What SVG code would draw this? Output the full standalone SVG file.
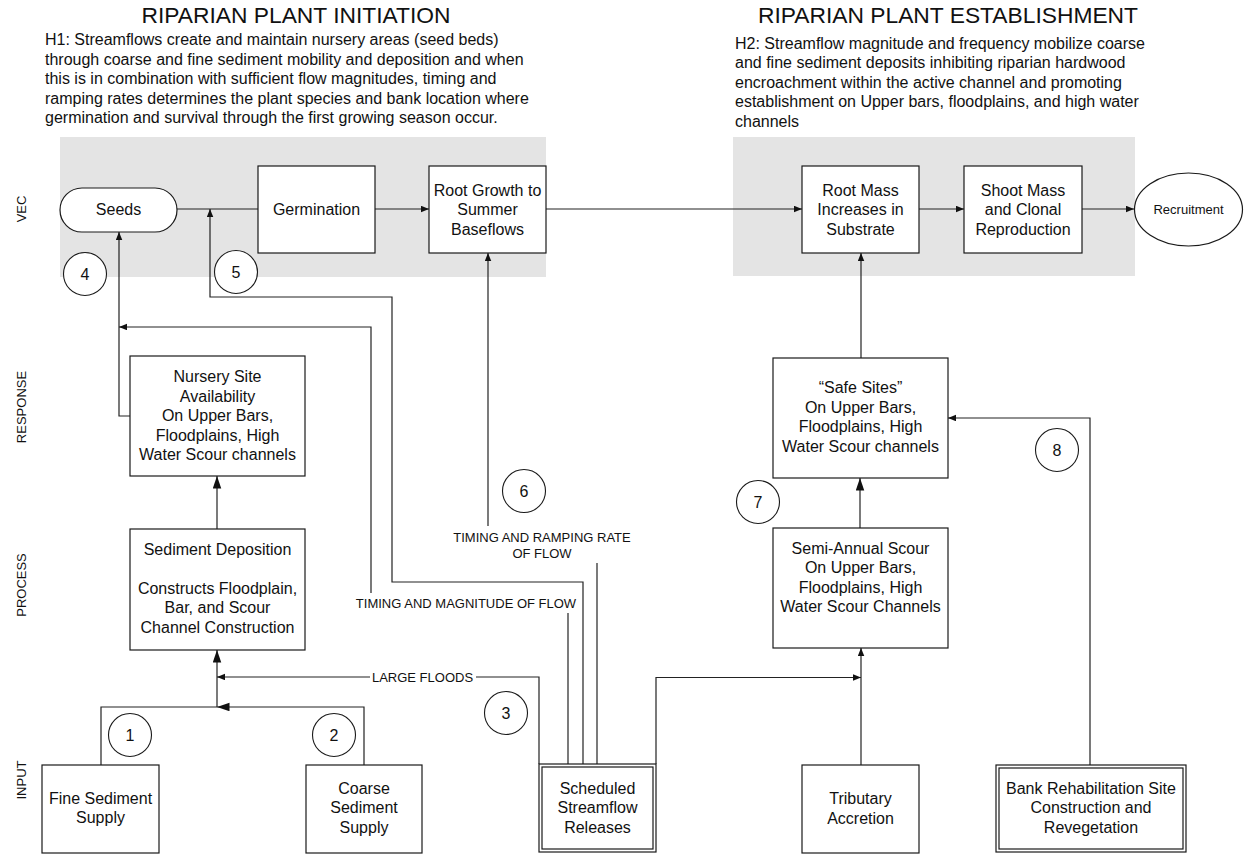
<svg xmlns="http://www.w3.org/2000/svg" width="1244" height="854" viewBox="0 0 1244 854">
  <defs>
    <style>
      text { font-family: "Liberation Sans", Arial, sans-serif; fill: #111; }
      .title { font-size: 22.8px; text-anchor: middle; }
      .hyp { font-size: 16px; }
      .node { font-size: 16px; text-anchor: middle; }
      .small { font-size: 13px; text-anchor: middle; }
      .lane { font-size: 13px; text-anchor: middle; }
      .box { fill: #fff; stroke: #1a1a1a; stroke-width: 1.2; }
      .band { fill: #e4e4e4; stroke: none; }
      .num { fill: #fff; stroke: #1a1a1a; stroke-width: 1.1; }
      .conn path { fill: none; stroke: #222; stroke-width: 1.2; }
    </style>
    <marker id="arr" markerUnits="userSpaceOnUse" markerWidth="9" markerHeight="7" refX="8" refY="3.25" orient="auto">
      <path d="M0,0 L8,3.25 L0,6.5 z" fill="#111"/>
    </marker>
    <marker id="arrL" markerUnits="userSpaceOnUse" markerWidth="14" markerHeight="9" refX="12.5" refY="4.25" orient="auto">
      <path d="M0,0 L12.5,4.25 L0,8.5 z" fill="#111"/>
    </marker>
  </defs>

  <rect width="1244" height="854" fill="#fff"/>

  <!-- headings -->
  <text class="title" x="296" y="23">RIPARIAN PLANT INITIATION</text>
  <text class="title" x="948" y="23">RIPARIAN PLANT ESTABLISHMENT</text>
  <text class="hyp" x="45" y="45">
    <tspan x="45">H1: Streamflows create and maintain nursery areas (seed beds)</tspan>
    <tspan x="45" dy="19.6">through coarse and fine sediment mobility and deposition and when</tspan>
    <tspan x="45" dy="19.6">this is in combination with sufficient flow magnitudes, timing and</tspan>
    <tspan x="45" dy="19.6">ramping rates determines the plant species and bank location where</tspan>
    <tspan x="45" dy="19.6">germination and survival through the first growing season occur.</tspan>
  </text>
  <text class="hyp" x="735" y="48.5">
    <tspan x="735">H2: Streamflow magnitude and frequency mobilize coarse</tspan>
    <tspan x="735" dy="19.5">and fine sediment deposits inhibiting riparian hardwood</tspan>
    <tspan x="735" dy="19.5">encroachment within the active channel and promoting</tspan>
    <tspan x="735" dy="19.5">establishment on Upper bars, floodplains, and high water</tspan>
    <tspan x="735" dy="19.5">channels</tspan>
  </text>

  <!-- lane labels -->
  <g id="lanes">
    <text class="lane" transform="translate(21,209) rotate(-90)" y="4.6">VEC</text>
    <text class="lane" transform="translate(21,407) rotate(-90)" y="4.6">RESPONSE</text>
    <text class="lane" transform="translate(21,585) rotate(-90)" y="4.6">PROCESS</text>
    <text class="lane" transform="translate(21,780) rotate(-90)" y="4.6">INPUT</text>
  </g>

  <!-- shaded VEC bands -->
  <rect class="band" x="60" y="137" width="486" height="140"/>
  <rect class="band" x="733" y="137" width="402" height="139"/>

  <!-- connectors -->
  <g id="connectors" class="conn">
    <path d="M177,209 H258"/>
    <path d="M375,209 H429" marker-end="url(#arr)"/>
    <path d="M546,209 H802" marker-end="url(#arr)"/>
    <path d="M919,209 H964" marker-end="url(#arr)"/>
    <path d="M1082,209 H1134" marker-end="url(#arr)"/>
    <path d="M130,416 H119 V232" marker-end="url(#arr)"/>
    <path d="M217,529 V476" marker-end="url(#arrL)"/>
    <path d="M101,765 V707 H217"/>
    <path d="M364,765 V707 H217" marker-end="url(#arrL)"/>
    <path d="M217,707 V650" marker-end="url(#arrL)"/>
    <path d="M539,764 V677 H476"/>
    <path d="M370,677 H217" marker-end="url(#arr)"/>
    <path d="M568,764 V613"/>
    <path d="M371,593 V327 H119" marker-end="url(#arr)"/>
    <path d="M583,764 V582 H392 V297 H210 V209" marker-end="url(#arr)"/>
    <path d="M597,764 V563"/>
    <path d="M488,526 V253" marker-end="url(#arr)"/>
    <path d="M656,764 V677.5 H861" marker-end="url(#arr)"/>
    <path d="M861,765 V648" marker-end="url(#arr)"/>
    <path d="M860,528 V478" marker-end="url(#arrL)"/>
    <path d="M861,358 V253" marker-end="url(#arr)"/>
    <path d="M1090,765 V418 H948" marker-end="url(#arr)"/>
  </g>

  <!-- connector labels -->
  <g id="flow-labels">
    <text class="small" x="422.5" y="681.5">LARGE FLOODS</text>
    <text class="small" x="466" y="607.5">TIMING AND MAGNITUDE OF FLOW</text>
    <text class="small" x="542" y="541.5">TIMING AND RAMPING RATE</text>
    <text class="small" x="542" y="557.5">OF FLOW</text>
  </g>

  <!-- VEC nodes -->
  <g id="seeds">
    <rect class="box" x="60" y="188" width="117" height="44" rx="22" ry="22"/>
    <text class="node" x="118.5" y="214.5">Seeds</text>
  </g>
  <g id="germination">
    <rect class="box" x="258" y="166" width="117" height="87"/>
    <text class="node" x="316.5" y="214.5">Germination</text>
  </g>
  <g id="root-growth">
    <rect class="box" x="429" y="166" width="117" height="87"/>
    <text class="node" x="487.5" y="195.5">Root Growth to</text>
    <text class="node" x="487.5" y="215">Summer</text>
    <text class="node" x="487.5" y="234.5">Baseflows</text>
  </g>
  <g id="root-mass">
    <rect class="box" x="802" y="166" width="117" height="87"/>
    <text class="node" x="860.5" y="195.5">Root Mass</text>
    <text class="node" x="860.5" y="215">Increases in</text>
    <text class="node" x="860.5" y="234.5">Substrate</text>
  </g>
  <g id="shoot-mass">
    <rect class="box" x="964" y="166" width="118" height="87"/>
    <text class="node" x="1023" y="195.5">Shoot Mass</text>
    <text class="node" x="1023" y="215">and Clonal</text>
    <text class="node" x="1023" y="234.5">Reproduction</text>
  </g>
  <g id="recruitment">
    <ellipse class="box" cx="1188.5" cy="209.5" rx="54" ry="36.5"/>
    <text class="small" x="1188.5" y="214">Recruitment</text>
  </g>

  <!-- response nodes -->
  <g id="nursery-site">
    <rect class="box" x="130" y="356" width="175" height="120"/>
    <text class="node" x="217.5" y="382">Nursery Site</text>
    <text class="node" x="217.5" y="401.5">Availability</text>
    <text class="node" x="217.5" y="421">On Upper Bars,</text>
    <text class="node" x="217.5" y="440.5">Floodplains, High</text>
    <text class="node" x="217.5" y="460">Water Scour channels</text>
  </g>
  <g id="safe-sites">
    <rect class="box" x="773" y="358" width="175" height="120"/>
    <text class="node" x="860.5" y="393">“Safe Sites”</text>
    <text class="node" x="860.5" y="412.5">On Upper Bars,</text>
    <text class="node" x="860.5" y="432">Floodplains, High</text>
    <text class="node" x="860.5" y="451.5">Water Scour channels</text>
  </g>

  <!-- process nodes -->
  <g id="sediment-deposition">
    <rect class="box" x="130" y="529" width="175" height="121"/>
    <text class="node" x="217.5" y="554.5">Sediment Deposition</text>
    <text class="node" x="217.5" y="593.5">Constructs Floodplain,</text>
    <text class="node" x="217.5" y="613">Bar, and Scour</text>
    <text class="node" x="217.5" y="632.5">Channel Construction</text>
  </g>
  <g id="semi-annual-scour">
    <rect class="box" x="773" y="528" width="175" height="120"/>
    <text class="node" x="860.5" y="553.5">Semi-Annual Scour</text>
    <text class="node" x="860.5" y="573">On Upper Bars,</text>
    <text class="node" x="860.5" y="592.5">Floodplains, High</text>
    <text class="node" x="860.5" y="612">Water Scour Channels</text>
  </g>

  <!-- input nodes -->
  <g id="fine-sediment">
    <rect class="box" x="42" y="765" width="117" height="88"/>
    <text class="node" x="100.5" y="803.5">Fine Sediment</text>
    <text class="node" x="100.5" y="823">Supply</text>
  </g>
  <g id="coarse-sediment">
    <rect class="box" x="306" y="765" width="116" height="88"/>
    <text class="node" x="364" y="793.5">Coarse</text>
    <text class="node" x="364" y="813">Sediment</text>
    <text class="node" x="364" y="832.5">Supply</text>
  </g>
  <g id="scheduled-releases">
    <rect class="box" x="539" y="764" width="117" height="88"/>
    <rect class="box" x="542" y="767" width="111" height="82"/>
    <text class="node" x="597.5" y="793.5">Scheduled</text>
    <text class="node" x="597.5" y="813">Streamflow</text>
    <text class="node" x="597.5" y="832.5">Releases</text>
  </g>
  <g id="tributary-accretion">
    <rect class="box" x="802" y="765" width="117" height="88"/>
    <text class="node" x="860.5" y="804">Tributary</text>
    <text class="node" x="860.5" y="823.5">Accretion</text>
  </g>
  <g id="bank-rehabilitation">
    <rect class="box" x="996" y="765" width="190" height="87"/>
    <rect class="box" x="999" y="768" width="184" height="81"/>
    <text class="node" x="1091" y="793.5">Bank Rehabilitation Site</text>
    <text class="node" x="1091" y="813">Construction and</text>
    <text class="node" x="1091" y="832.5">Revegetation</text>
  </g>

  <!-- numbered hypothesis links -->
  <g id="markers-numbered">
    <g id="n1"><circle class="num" cx="130" cy="735" r="21.5"/><text class="node" x="130" y="740.5">1</text></g>
    <g id="n2"><circle class="num" cx="334" cy="735" r="21.5"/><text class="node" x="334" y="740.5">2</text></g>
    <g id="n3"><circle class="num" cx="506" cy="713" r="21.5"/><text class="node" x="506" y="718.5">3</text></g>
    <g id="n4"><circle class="num" cx="85" cy="274" r="21.5"/><text class="node" x="85" y="279.5">4</text></g>
    <g id="n5"><circle class="num" cx="236" cy="272" r="21.5"/><text class="node" x="236" y="277.5">5</text></g>
    <g id="n6"><circle class="num" cx="524" cy="491" r="21.5"/><text class="node" x="524" y="496.5">6</text></g>
    <g id="n7"><circle class="num" cx="758" cy="502" r="21.5"/><text class="node" x="758" y="507.5">7</text></g>
    <g id="n8"><circle class="num" cx="1057" cy="450" r="21.5"/><text class="node" x="1057" y="455.5">8</text></g>
  </g>
</svg>
